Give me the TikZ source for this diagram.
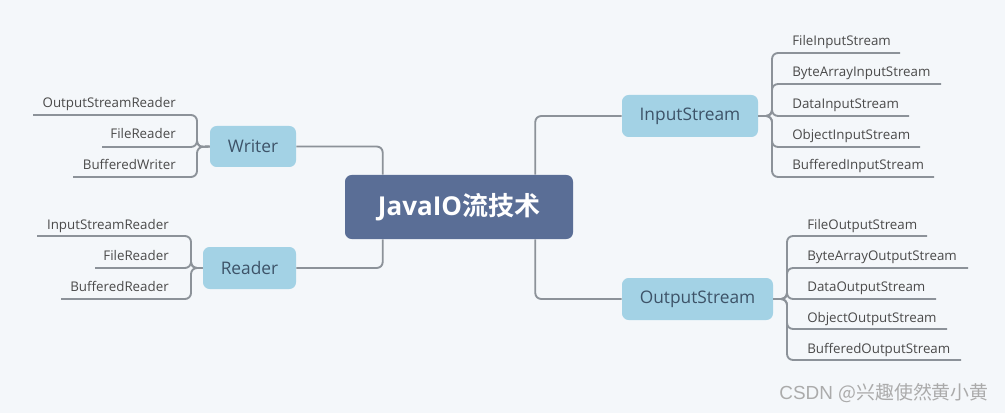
\documentclass[tikz,border=0pt]{standalone}
\usepackage{fontspec}
\setmainfont{Open Sans}
\newfontfamily\cjkb{Noto Sans CJK SC}[BoldFont={* Bold}]
\newfontfamily\cjk{Noto Sans CJK SC}
\definecolor{bgc}{HTML}{F4F7FA}
\definecolor{mainc}{HTML}{5A6E96}
\definecolor{subc}{HTML}{A3D2E5}
\definecolor{subtxt}{HTML}{3D5368}
\definecolor{linec}{HTML}{8C9299}
\definecolor{leaftxt}{HTML}{4A4A4A}
\definecolor{wmc}{HTML}{ABABAB}
\tikzset{
  conn/.style={draw=linec, line width=1.4pt, rounded corners=4.5pt},
  mainbox/.style={fill=mainc, rounded corners=5pt, text=white, inner sep=0pt, font=\fontsize{19.5pt}{22pt}\selectfont\bfseries},
  subbox/.style={fill=subc, rounded corners=5pt, text=subtxt, inner sep=0pt, font=\fontsize{13pt}{15pt}\selectfont},
  leafr/.style={anchor=base west, inner sep=0pt, text=leaftxt, font=\fontsize{10pt}{11pt}\selectfont},
  leafl/.style={anchor=base east, inner sep=0pt, text=leaftxt, font=\fontsize{10pt}{11pt}\selectfont},
}
\begin{document}
\begin{tikzpicture}[x=0.75pt, y=-0.75pt]
\useasboundingbox (0,0) rectangle (1005,413);
\fill[bgc] (0,0) rectangle (1005,413);

% main node
\node[mainbox, minimum width={228*0.75pt}, minimum height={64*0.75pt}] (C) at (459,207) {JavaIO{\cjkb\bfseries 流技术}};

% sub nodes
\node[subbox, minimum width={86*0.75pt}, minimum height={41*0.75pt}] (W) at (253,146.5) {Writer};
\node[subbox, minimum width={93*0.75pt}, minimum height={42*0.75pt}] (R) at (249.5,268) {Reader};
\node[subbox, minimum width={136*0.75pt}, minimum height={42*0.75pt}] (I) at (690,116) {InputStream};
\node[subbox, minimum width={151*0.75pt}, minimum height={42*0.75pt}] (O) at (697.5,299) {OutputStream};

% main connectors
\draw[conn] (W.east) -| ([xshift={38*0.75pt}]C.north west);
\draw[conn] (R.east) -| ([xshift={38*0.75pt}]C.south west);
\draw[conn] (I.west) -| ([xshift={-38*0.75pt}]C.north east);
\draw[conn] (O.west) -| ([xshift={-38*0.75pt}]C.south east);

% InputStream leaves
\coordinate (i1) at (900,53);
\coordinate (i2) at (941,84);
\coordinate (i3) at (909,116);
\coordinate (i4) at (920,147);
\coordinate (i5) at (934,177);
\node[leafr] (il1) at (792,46) {FileInputStream};
\node[leafr] (il2) at (792,77) {ByteArrayInputStream};
\node[leafr] (il3) at (792,108.5) {DataInputStream};
\node[leafr] (il4) at (792,139.5) {ObjectInputStream};
\node[leafr] (il5) at (792,170) {BufferedInputStream};
\foreach \k in {1,...,5} {\draw[conn] (I.east) -- (772,116) |- (i\k);}

% OutputStream leaves
\coordinate (o1) at (927,236);
\coordinate (o2) at (968,268);
\coordinate (o3) at (936,299);
\coordinate (o4) at (947,329);
\coordinate (o5) at (961,360);
\node[leafr] (ol1) at (807,229) {FileOutputStream};
\node[leafr] (ol2) at (807,260.5) {ByteArrayOutputStream};
\node[leafr] (ol3) at (807,291.5) {DataOutputStream};
\node[leafr] (ol4) at (807,322) {ObjectOutputStream};
\node[leafr] (ol5) at (807,353) {BufferedOutputStream};
\foreach \k in {1,...,5} {\draw[conn] (O.east) -- (787,299) |- (o\k);}

% Writer leaves
\coordinate (w1) at (33,115);
\coordinate (w2) at (102,147);
\coordinate (w3) at (73,177);
\node[leafl] (wl1) at (176,108) {OutputStreamReader};
\node[leafl] (wl2) at (176,139) {FileReader};
\node[leafl] (wl3) at (176,170) {BufferedWriter};
\foreach \k in {1,2,3} {\draw[conn] (W.west) -- (197,147) |- (w\k);}

% Reader leaves
\coordinate (r1) at (37,236);
\coordinate (r2) at (95,268);
\coordinate (r3) at (61,299);
\node[leafl] (rl1) at (169,229) {InputStreamReader};
\node[leafl] (rl2) at (169,260) {FileReader};
\node[leafl] (rl3) at (169,291) {BufferedReader};
\foreach \k in {1,2,3} {\draw[conn] (R.west) -- (191,268) |- (r\k);}

% watermark
\node[anchor=east, inner sep=0pt, text=wmc, font=\fontsize{14.2pt}{16pt}\selectfont] (wm) at (989,393) {\fontspec{Liberation Sans}CSDN {\cjk @兴趣使然黄小黄}};
\end{tikzpicture}
\end{document}
